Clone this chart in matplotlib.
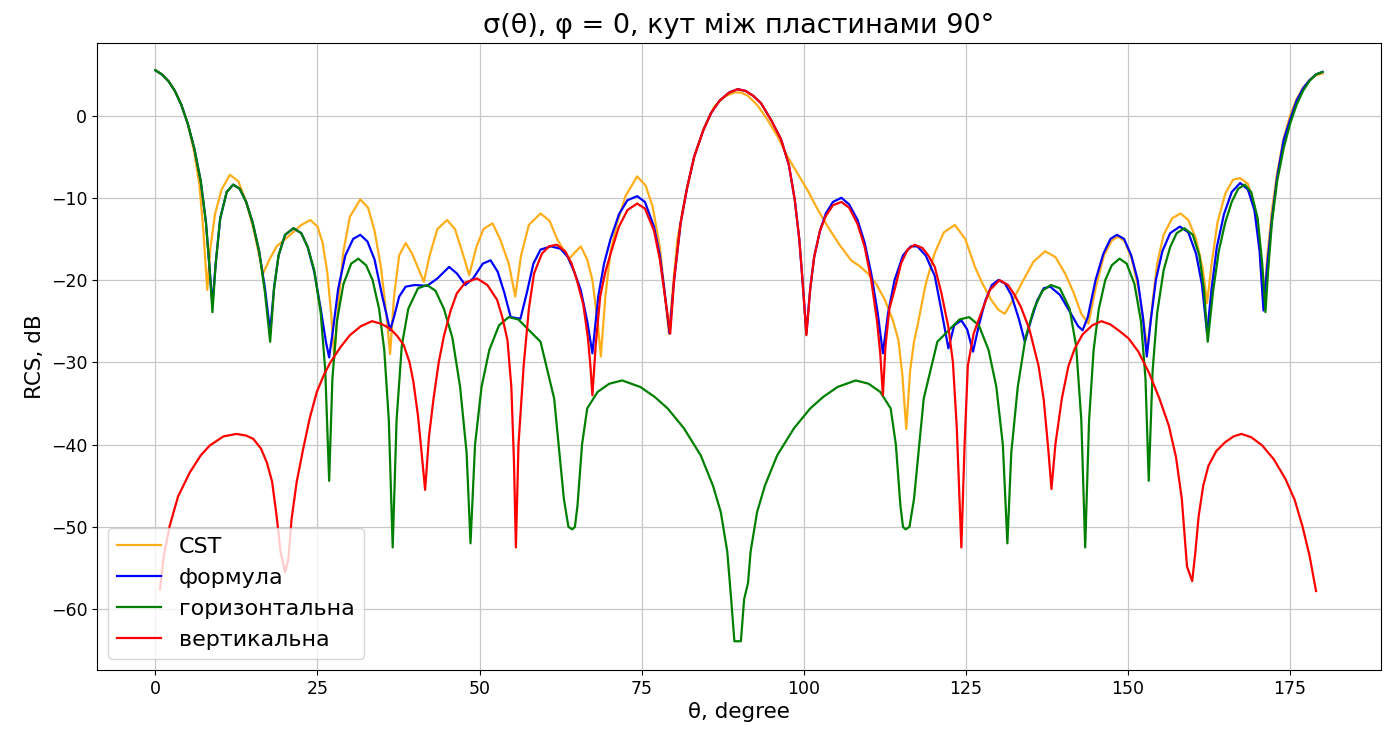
import matplotlib
matplotlib.use('Agg')
import matplotlib.pyplot as plt

# CST simulation
theta_cst = [0, 1, 2, 3, 4, 5, 6, 6.8, 7.4, 8.0, 8.5, 9.2, 10.2, 11.5, 12.8, 14.0, 15.2, 16.6, 17.6, 18.7,
             20.8, 22.5, 23.9, 25.0, 25.8, 26.5, 27.1, 27.6, 28.2, 29.0, 30.0, 31.6, 32.8, 33.8, 34.8, 35.6,
             36.2, 36.8, 37.6, 38.6, 39.6, 40.5, 41.4, 42.3, 43.5, 45.0, 46.2, 47.3, 48.4, 49.5, 50.6, 52.0,
             53.2, 54.5, 55.5, 56.4, 57.6, 59.4, 60.8, 62.0, 63.8, 65.6, 66.6, 67.4, 68.2, 68.7, 69.4, 70.2,
             71.2, 72.5, 74.3, 75.6, 76.7, 77.8, 78.5, 79.2, 79.8, 80.5, 81.8, 83.1, 84.6, 86.2, 87.8, 89.3,
             90.3, 91.4, 92.9, 94.4, 96.0, 97.5, 99.0, 100.6, 102.2, 103.7, 105.5, 107.3, 108.6, 109.9, 111.2,
             112.5, 113.7, 114.6, 115.2, 115.8, 116.4, 117.0, 117.6, 118.8, 120.2, 121.6, 123.3, 124.9, 126.4,
             127.6, 128.9, 130.0, 131.0, 132.2, 133.6, 135.4, 137.2, 138.8, 140.3, 141.6, 142.8, 143.9, 145.0,
             146.3, 147.5, 148.5, 149.5, 150.6, 151.6, 152.4, 153.0, 153.6, 154.5, 155.5, 156.8, 158.1, 159.3,
             160.5, 161.5, 162.2, 162.9, 163.8, 165.0, 166.2, 167.3, 168.5, 169.5, 170.3, 170.9, 171.5, 172.2,
             173.0, 174.0, 175.0, 176.0, 177.0, 178.0, 179.0, 180.0]
rcs_cst = [5.5, 5.0, 4.2, 3.0, 1.3, -1.0, -4.5, -8.5, -14.0, -21.2, -16.0, -12.0, -9.0, -7.2, -8.0, -10.5, -14.0,
           -19.2, -17.5, -15.9, -14.5, -13.3, -12.7, -13.5, -15.5, -19.0, -24.0, -29.5, -23.0, -16.5, -12.3,
           -10.2, -11.2, -14.0, -18.5, -24.0, -29.0, -22.0, -17.0, -15.5, -16.8, -18.5, -20.2, -17.0, -13.8,
           -12.7, -13.8, -16.5, -19.4, -16.0, -13.8, -13.1, -15.1, -18.0, -22.0, -17.0, -13.3, -11.9, -12.8,
           -15.1, -17.4, -15.9, -17.5, -20.0, -25.0, -29.3, -22.0, -16.5, -13.1, -9.8, -7.4, -8.5, -11.1, -16.0,
           -21.2, -26.5, -21.0, -15.1, -9.5, -5.0, -1.5, 1.1, 2.3, 2.8, 2.8, 2.4, 1.2, -0.5, -2.6, -5.0, -7.0,
           -9.1, -11.5, -13.5, -15.7, -17.6, -18.3, -19.2, -20.5, -22.4, -24.8, -27.3, -31.5, -38.1, -31.0,
           -27.5, -25.3, -20.5, -16.7, -14.2, -13.3, -15.0, -18.4, -20.5, -22.4, -23.6, -24.1, -22.5, -20.4,
           -17.8, -16.5, -17.2, -19.2, -21.5, -24.1, -25.3, -21.0, -17.0, -15.2, -14.7, -15.3, -17.5, -21.0,
           -25.0, -28.5, -24.0, -18.0, -14.5, -12.5, -11.9, -12.7, -15.0, -18.5, -22.8, -18.0, -13.0, -9.5,
           -7.8, -7.6, -8.3, -11.0, -16.0, -23.3, -17.0, -11.5, -7.0, -2.8, 0.0, 2.0, 3.4, 4.3, 4.9, 5.1]

# analytic formula
theta_formula = [0, 1, 2, 3, 4, 5, 6, 7, 7.8, 8.4, 8.8, 9.3, 10.0, 11.0, 12.0, 13.0, 14.0, 15.0, 16.0, 16.9,
                 17.7, 18.3, 19.0, 20.0, 21.3, 22.5, 23.5, 24.5, 25.5, 26.3, 26.8, 27.4, 28.2, 29.3, 30.5, 31.6,
                 32.7, 33.8, 35.0, 36.2, 36.8, 37.6, 38.6, 40.0, 41.9, 43.5, 45.3, 46.5, 47.8, 49.0, 50.5, 51.7,
                 52.8, 53.8, 54.8, 56.3, 57.3, 58.3, 59.4, 61.0, 62.5, 63.6, 64.6, 65.6, 66.6, 67.4, 68.3, 69.2,
                 70.2, 71.5, 72.8, 74.3, 75.5, 76.9, 77.8, 78.5, 79.3, 80.0, 81.0, 82.0, 83.1, 84.5, 85.7, 87.0,
                 88.5, 89.8, 91.0, 92.2, 93.4, 95.0, 96.5, 97.7, 98.6, 99.3, 99.8, 100.4, 101.0, 101.6, 102.5,
                 103.4, 104.5, 105.8, 107.0, 108.3, 109.4, 110.4, 111.4, 112.2, 113.0, 114.0, 115.3, 116.5,
                 117.5, 118.8, 120.2, 121.3, 122.3, 123.2, 124.3, 125.2, 126.1, 127.0, 128.0, 129.0, 130.0,
                 131.0, 132.0, 133.2, 134.1, 135.0, 136.0, 137.0, 138.0, 139.5, 141.0, 142.3, 143.0, 143.8,
                 145.0, 146.2, 147.3, 148.3, 149.4, 150.5, 151.5, 152.3, 152.9, 153.5, 154.3, 155.3, 156.5,
                 158.0, 159.3, 160.5, 161.4, 162.2, 162.9, 163.7, 164.8, 166.0, 167.3, 168.5, 169.5, 170.3,
                 170.9, 171.5, 172.2, 173.0, 174.0, 175.0, 176.0, 177.0, 178.0, 179.0, 180.0]
rcs_formula = [5.5, 5.0, 4.2, 3.0, 1.3, -1.0, -4.0, -8.0, -13.0, -19.0, -23.0, -18.0, -12.5, -9.3, -8.4, -8.9,
               -10.5, -13.0, -16.5, -21.0, -26.3, -21.0, -17.0, -14.5, -13.7, -14.3, -16.0, -19.0, -23.5, -27.5,
               -29.4, -26.0, -21.0, -17.0, -15.0, -14.5, -15.3, -17.5, -22.0, -26.1, -24.5, -22.0, -20.8, -20.6,
               -20.7, -19.8, -18.4, -19.2, -20.6, -19.8, -18.0, -17.6, -19.0, -21.5, -24.5, -24.7, -21.5, -18.0,
               -16.3, -15.9, -16.2, -17.2, -19.0, -21.2, -25.0, -28.9, -22.0, -18.0, -15.0, -12.0, -10.3, -9.8,
               -10.5, -13.5, -17.0, -21.2, -26.5, -20.0, -13.1, -8.8, -5.0, -1.8, 0.3, 1.8, 2.8, 3.2, 3.0, 2.4,
               1.5, -0.6, -2.9, -6.0, -10.2, -15.0, -20.0, -26.5, -21.0, -17.2, -14.0, -11.9, -10.5, -10.0,
               -10.8, -12.7, -15.5, -19.2, -24.0, -28.9, -24.0, -20.0, -17.0, -15.9, -15.9, -17.0, -19.5, -24.0,
               -28.3, -25.5, -24.9, -26.0, -28.7, -25.5, -22.5, -20.6, -20.0, -20.4, -21.8, -24.8, -27.5, -25.0,
               -22.5, -21.0, -20.8, -21.8, -23.8, -25.6, -26.1, -24.5, -20.0, -16.8, -15.0, -14.5, -15.0, -17.0,
               -20.0, -24.5, -29.3, -25.0, -20.0, -16.5, -14.3, -13.5, -14.2, -16.8, -20.5, -26.5, -21.0, -16.0,
               -12.0, -9.3, -8.2, -9.0, -11.5, -16.5, -23.7, -18.0, -12.5, -7.5, -3.0, -0.5, 1.8, 3.3, 4.3, 5.0,
               5.3]

# horizontal polarisation
theta_hor = [0, 1, 2, 3, 4, 5, 6, 7, 7.8, 8.4, 8.8, 9.3, 10.0, 11.0, 12.0, 13.0, 14.0, 15.0, 16.0, 16.9, 17.7,
             18.3, 19.0, 20.0, 21.3, 22.5, 23.5, 24.5, 25.5, 26.2, 26.8, 27.3, 28.0, 29.0, 30.2, 31.3, 32.5,
             33.5, 34.5, 35.3, 36.0, 36.6, 37.2, 38.0, 39.0, 40.5, 41.9, 43.2, 44.5, 45.8, 47.0, 48.0, 48.6,
             49.3, 50.3, 51.5, 53.0, 54.5, 56.0, 57.5, 59.4, 61.5, 63.0, 63.7, 64.3, 64.7, 65.1, 65.8, 66.6,
             68.2, 70.0, 72.0, 74.8, 77.0, 79.0, 81.5, 84.1, 86.0, 87.2, 88.2, 88.8, 89.3, 90.3, 90.8, 91.4,
             91.8, 92.8, 94.0, 95.9, 98.5, 101.0, 103.0, 105.2, 108.0, 110.0, 111.8, 113.4, 114.2, 114.9,
             115.3, 115.7, 116.3, 117.0, 118.5, 120.6, 122.5, 124.0, 125.5, 127.0, 128.5, 129.7, 130.7, 131.4,
             132.0, 133.0, 134.2, 135.5, 136.8, 138.1, 139.5, 141.0, 142.0, 142.8, 143.4, 144.0, 144.7, 145.5,
             146.5, 147.5, 148.7, 149.8, 151.0, 152.0, 152.7, 153.2, 153.8, 154.5, 155.5, 156.5, 157.5, 158.7,
             160.0, 161.0, 161.7, 162.3, 163.1, 164.0, 165.0, 166.0, 167.0, 168.0, 169.0, 170.0, 170.7, 171.2,
             171.6, 172.2, 173.0, 174.0, 175.0, 176.0, 177.0, 178.0, 179.0, 180.0]
rcs_hor = [5.5, 5.0, 4.2, 3.0, 1.3, -1.0, -4.0, -8.0, -13.0, -19.0, -23.9, -18.0, -12.5, -9.3, -8.4, -8.9, -10.5,
           -13.0, -16.5, -21.5, -27.5, -21.0, -17.0, -14.5, -13.7, -14.3, -16.0, -18.8, -24.0, -31.0, -44.4,
           -32.0, -25.0, -20.5, -18.0, -17.4, -18.2, -20.0, -23.5, -28.5, -37.0, -52.5, -37.0, -28.0, -23.5,
           -21.0, -20.6, -21.3, -23.5, -27.0, -33.0, -41.0, -52.0, -40.0, -33.0, -28.5, -25.5, -24.5, -24.8,
           -26.0, -27.5, -34.4, -46.6, -50.0, -50.3, -50.0, -47.4, -40.0, -35.6, -33.6, -32.6, -32.2, -33.0,
           -34.2, -35.6, -38.0, -41.3, -45.0, -48.2, -53.0, -58.8, -63.9, -63.9, -58.8, -56.8, -53.0, -48.2,
           -45.0, -41.3, -38.0, -35.6, -34.2, -33.0, -32.2, -32.6, -33.6, -35.6, -40.0, -47.4, -50.0, -50.3,
           -50.0, -46.6, -34.4, -27.5, -26.0, -24.8, -24.5, -25.5, -28.5, -33.0, -40.0, -52.0, -41.0, -33.0,
           -27.0, -23.5, -21.3, -20.6, -21.0, -23.5, -28.0, -37.0, -52.5, -37.0, -28.5, -23.5, -20.0, -18.2,
           -17.4, -18.0, -20.5, -25.0, -32.0, -44.4, -31.0, -24.0, -18.8, -16.0, -14.3, -13.7, -14.5, -17.0,
           -21.0, -27.5, -21.5, -16.5, -13.0, -10.5, -8.9, -8.4, -9.3, -12.5, -18.0, -23.9, -19.0, -13.0,
           -8.0, -4.0, -1.0, 1.3, 3.0, 4.2, 5.0, 5.3]

# vertical polarisation
theta_ver = [0.7, 1.3, 2.2, 3.5, 5.3, 7.0, 8.4, 10.5, 12.5, 14.0, 15.1, 16.3, 17.2, 18.0, 18.7, 19.3, 20.0,
             20.5, 21.0, 21.8, 22.8, 23.8, 24.9, 26.0, 27.0, 28.5, 30.0, 31.7, 33.4, 34.8, 36.2, 37.3, 38.3,
             39.2, 39.8, 40.5, 41.0, 41.6, 42.2, 42.9, 43.7, 44.5, 45.5, 46.5, 47.8, 49.6, 51.2, 52.7, 53.5,
             54.3, 54.9, 55.3, 55.6, 56.0, 56.8, 57.6, 58.4, 59.6, 60.7, 61.9, 63.2, 64.2, 65.0, 66.0, 66.7,
             67.1, 67.4, 67.9, 68.6, 69.4, 70.2, 71.5, 72.8, 74.3, 75.5, 76.9, 77.8, 78.5, 79.4, 80.0, 81.0,
             82.0, 83.1, 84.5, 85.7, 87.0, 88.5, 89.8, 91.0, 92.2, 93.4, 95.0, 96.5, 97.7, 98.6, 99.3, 99.8,
             100.4, 101.0, 101.6, 102.5, 103.4, 104.5, 105.8, 107.0, 108.3, 109.4, 110.4, 111.3, 111.8, 112.2,
             112.6, 113.2, 114.0, 115.0, 116.0, 117.1, 118.3, 119.2, 120.2, 121.2, 122.3, 123.0, 123.6, 124.3,
             124.8, 125.3, 126.2, 127.4, 128.7, 130.2, 131.5, 132.5, 133.5, 134.8, 135.6, 136.2, 137.0, 137.7,
             138.2, 138.8, 139.8, 140.8, 141.8, 143.0, 144.5, 145.9, 147.3, 148.7, 150.1, 151.6, 153.2, 154.8,
             156.3, 157.4, 158.3, 159.1, 159.9, 160.4, 160.9, 161.6, 162.4, 163.6, 165.0, 166.3, 167.5, 169.0,
             170.7, 172.5, 174.3, 175.7, 176.9, 178.0, 179.0]
rcs_ver = [-57.6, -53.5, -49.9, -46.3, -43.4, -41.3, -40.1, -39.0, -38.7, -38.9, -39.3, -40.5, -42.2, -44.5,
           -48.7, -53.0, -55.5, -54.0, -49.1, -44.5, -40.5, -36.8, -33.6, -31.5, -30.0, -28.2, -26.7, -25.6,
           -25.0, -25.3, -25.9, -26.8, -27.9, -30.0, -32.4, -36.5, -40.5, -45.5, -39.0, -34.4, -30.0, -26.8,
           -23.8, -21.6, -20.3, -19.8, -20.6, -22.4, -24.5, -27.3, -33.0, -42.0, -52.5, -40.0, -30.4, -23.5,
           -19.2, -16.8, -15.9, -15.7, -16.5, -18.0, -20.0, -23.0, -27.0, -30.5, -34.0, -28.0, -22.0, -19.0,
           -16.8, -13.5, -11.5, -10.7, -11.3, -14.0, -17.5, -21.5, -26.5, -20.0, -13.1, -8.8, -5.0, -1.8, 0.3,
           1.8, 2.8, 3.2, 3.0, 2.4, 1.5, -0.6, -2.9, -6.0, -10.2, -15.0, -20.0, -26.7, -21.0, -17.2, -14.0,
           -12.2, -10.9, -10.5, -11.2, -13.2, -16.0, -20.0, -25.0, -29.0, -34.0, -28.0, -23.5, -21.2, -18.0,
           -16.3, -15.7, -16.1, -17.0, -18.4, -21.5, -25.7, -30.0, -38.0, -52.5, -40.0, -30.4, -26.5, -23.9,
           -21.2, -20.0, -20.6, -21.8, -23.3, -26.0, -28.5, -30.4, -34.5, -40.5, -45.4, -40.0, -34.4, -30.5,
           -28.3, -26.6, -25.5, -25.0, -25.4, -26.2, -27.1, -28.7, -31.2, -34.3, -37.7, -41.5, -46.6, -54.8,
           -56.6, -53.0, -48.7, -45.0, -42.6, -40.8, -39.7, -39.0, -38.7, -39.1, -40.1, -41.8, -44.2, -46.7,
           -49.9, -53.5, -57.8]

fig = plt.figure(figsize=(13.92, 7.31), dpi=100)
ax = fig.add_axes([0.0697, 0.0834, 0.9223, 0.8576])

ax.plot(theta_cst, rcs_cst, color='#ffae1a', linewidth=1.6, label='CST')
ax.plot(theta_formula, rcs_formula, color='blue', linewidth=1.6, label='формула')
ax.plot(theta_hor, rcs_hor, color='green', linewidth=1.6, label='горизонтальна')
ax.plot(theta_ver, rcs_ver, color='red', linewidth=1.6, label='вертикальна')

ax.set_xlim(-9, 189)
ax.set_ylim(-67.4, 8.8)
ax.set_xticks([0, 25, 50, 75, 100, 125, 150, 175])
ax.set_yticks([0, -10, -20, -30, -40, -50, -60])
ax.tick_params(labelsize=12.5)

ax.set_title('σ(θ), φ = 0, кут між пластинами 90°', fontsize=19.5, pad=7)
ax.set_xlabel('θ, degree', fontsize=15.5, labelpad=3)
ax.set_ylabel('RCS, dB', fontsize=15.5)
ax.grid(True, color='#c8c8c8', linewidth=0.9)
ax.legend(loc='lower left', fontsize=16)

fig.savefig('out.png', dpi=100)
